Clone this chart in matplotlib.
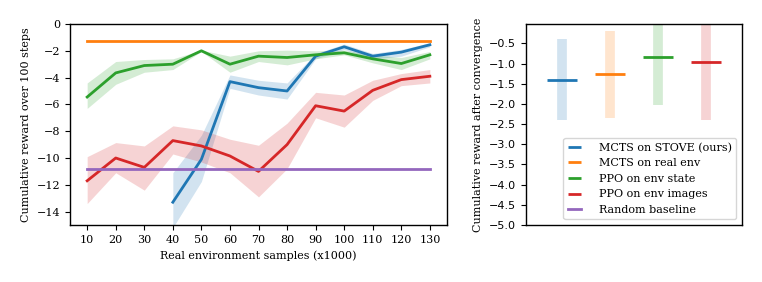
import numpy as np
import matplotlib
matplotlib.use("Agg")
import matplotlib.pyplot as plt

plt.rcParams['font.family'] = ['DejaVu Serif']
plt.rcParams['font.size'] = 8
plt.rcParams['axes.linewidth'] = 1.0

# 学习曲线数据
samples = [10, 20, 30, 40, 50, 60, 70, 80, 90, 100, 110, 120, 130]

stove_x = [40, 50, 60, 70, 80, 90, 100, 110, 120, 130]
stove_mean = [-13.3, -10.1, -4.3, -4.75, -5.0, -2.4, -1.7, -2.4, -2.1, -1.55]
stove_hi = [-11.1, -8.3, -3.8, -4.2, -4.4, -2.2, -1.5, -2.2, -1.9, -1.4]
stove_lo = [-15.2, -11.75, -4.8, -5.3, -5.6, -2.6, -1.9, -2.6, -2.4, -1.7]

real_env = -1.3
random_baseline = -10.85

ppo_state_mean = [-5.45, -3.65, -3.1, -3.0, -2.0, -3.0, -2.4, -2.5, -2.3, -2.15, -2.6, -2.95, -2.3]
ppo_state_hi = [-4.4, -2.8, -2.65, -2.6, -1.95, -2.4, -2.0, -1.95, -2.0, -1.95, -2.3, -2.5, -2.05]
ppo_state_lo = [-6.3, -4.5, -3.6, -3.4, -2.05, -3.6, -2.8, -3.05, -2.6, -2.3, -2.9, -3.4, -2.6]

ppo_img_mean = [-11.7, -10.0, -10.7, -8.7, -9.1, -9.85, -11.0, -9.0, -6.1, -6.5, -4.95, -4.15, -3.9]
ppo_img_hi = [-9.9, -8.85, -9.1, -7.6, -7.9, -8.6, -9.05, -7.4, -5.1, -5.3, -4.2, -3.7, -3.4]
ppo_img_lo = [-13.4, -11.1, -12.4, -9.7, -10.3, -11.1, -12.9, -10.8, -7.0, -7.7, -5.7, -4.6, -4.4]

# 收敛后结果
conv_names = ["MCTS on STOVE (ours)", "MCTS on real env", "PPO on env state", "PPO on env images"]
conv_mean = [-1.4, -1.27, -0.83, -0.95]
conv_err = [1.0, 1.07, 1.19, 1.45]

colors = ["tab:blue", "tab:orange", "tab:green", "tab:red", "tab:purple"]
lw = 2.0

fig = plt.figure(figsize=(7.62, 2.82), dpi=100)
ax1 = fig.add_axes([0.0919, 0.2021, 0.4947, 0.7128])
ax2 = fig.add_axes([0.690, 0.2021, 0.2838, 0.7128])

# 左图
ax1.plot(stove_x, stove_mean, color=colors[0], lw=lw)
ax1.fill_between(stove_x, stove_lo, stove_hi, color=colors[0], alpha=0.2, lw=0)
ax1.plot(samples, [real_env] * len(samples), color=colors[1], lw=lw)
ax1.plot(samples, ppo_state_mean, color=colors[2], lw=lw)
ax1.fill_between(samples, ppo_state_lo, ppo_state_hi, color=colors[2], alpha=0.2, lw=0)
ax1.plot(samples, ppo_img_mean, color=colors[3], lw=lw)
ax1.fill_between(samples, ppo_img_lo, ppo_img_hi, color=colors[3], alpha=0.2, lw=0)
ax1.plot(samples, [random_baseline] * len(samples), color=colors[4], lw=lw)
ax1.set_xticks(samples)
ax1.set_xlim(4, 136)
ax1.set_ylim(-15, 0)
ax1.set_yticks(np.arange(-14, 1, 2))
ax1.set_xlabel("Real environment samples (x1000)")
ax1.set_ylabel("Cumulative reward over 100 steps")

# 右图
xs = np.arange(len(conv_mean))
for i in xs:
    ax2.vlines(i, conv_mean[i] - conv_err[i], conv_mean[i] + conv_err[i],
               color=colors[i], alpha=0.2, lw=7)
    ax2.hlines(conv_mean[i], i - 0.31, i + 0.31, color=colors[i], lw=lw, label=conv_names[i])
ax2.plot([], [], color=colors[4], lw=lw, label="Random baseline")
ax2.set_xlim(-0.75, 3.75)
ax2.set_ylim(-5, -0.02)
ax2.set_xticks([])
ax2.set_yticks(np.arange(-5.0, -0.4, 0.5))
for t in ax2.get_yticklabels():
    t.set_family('DejaVu Sans')
ax2.set_ylabel("Cumulative reward after convergence")
ax2.legend(loc="lower right", handlelength=1.2, handletextpad=1.6)

fig.savefig("out.png", dpi=100)
